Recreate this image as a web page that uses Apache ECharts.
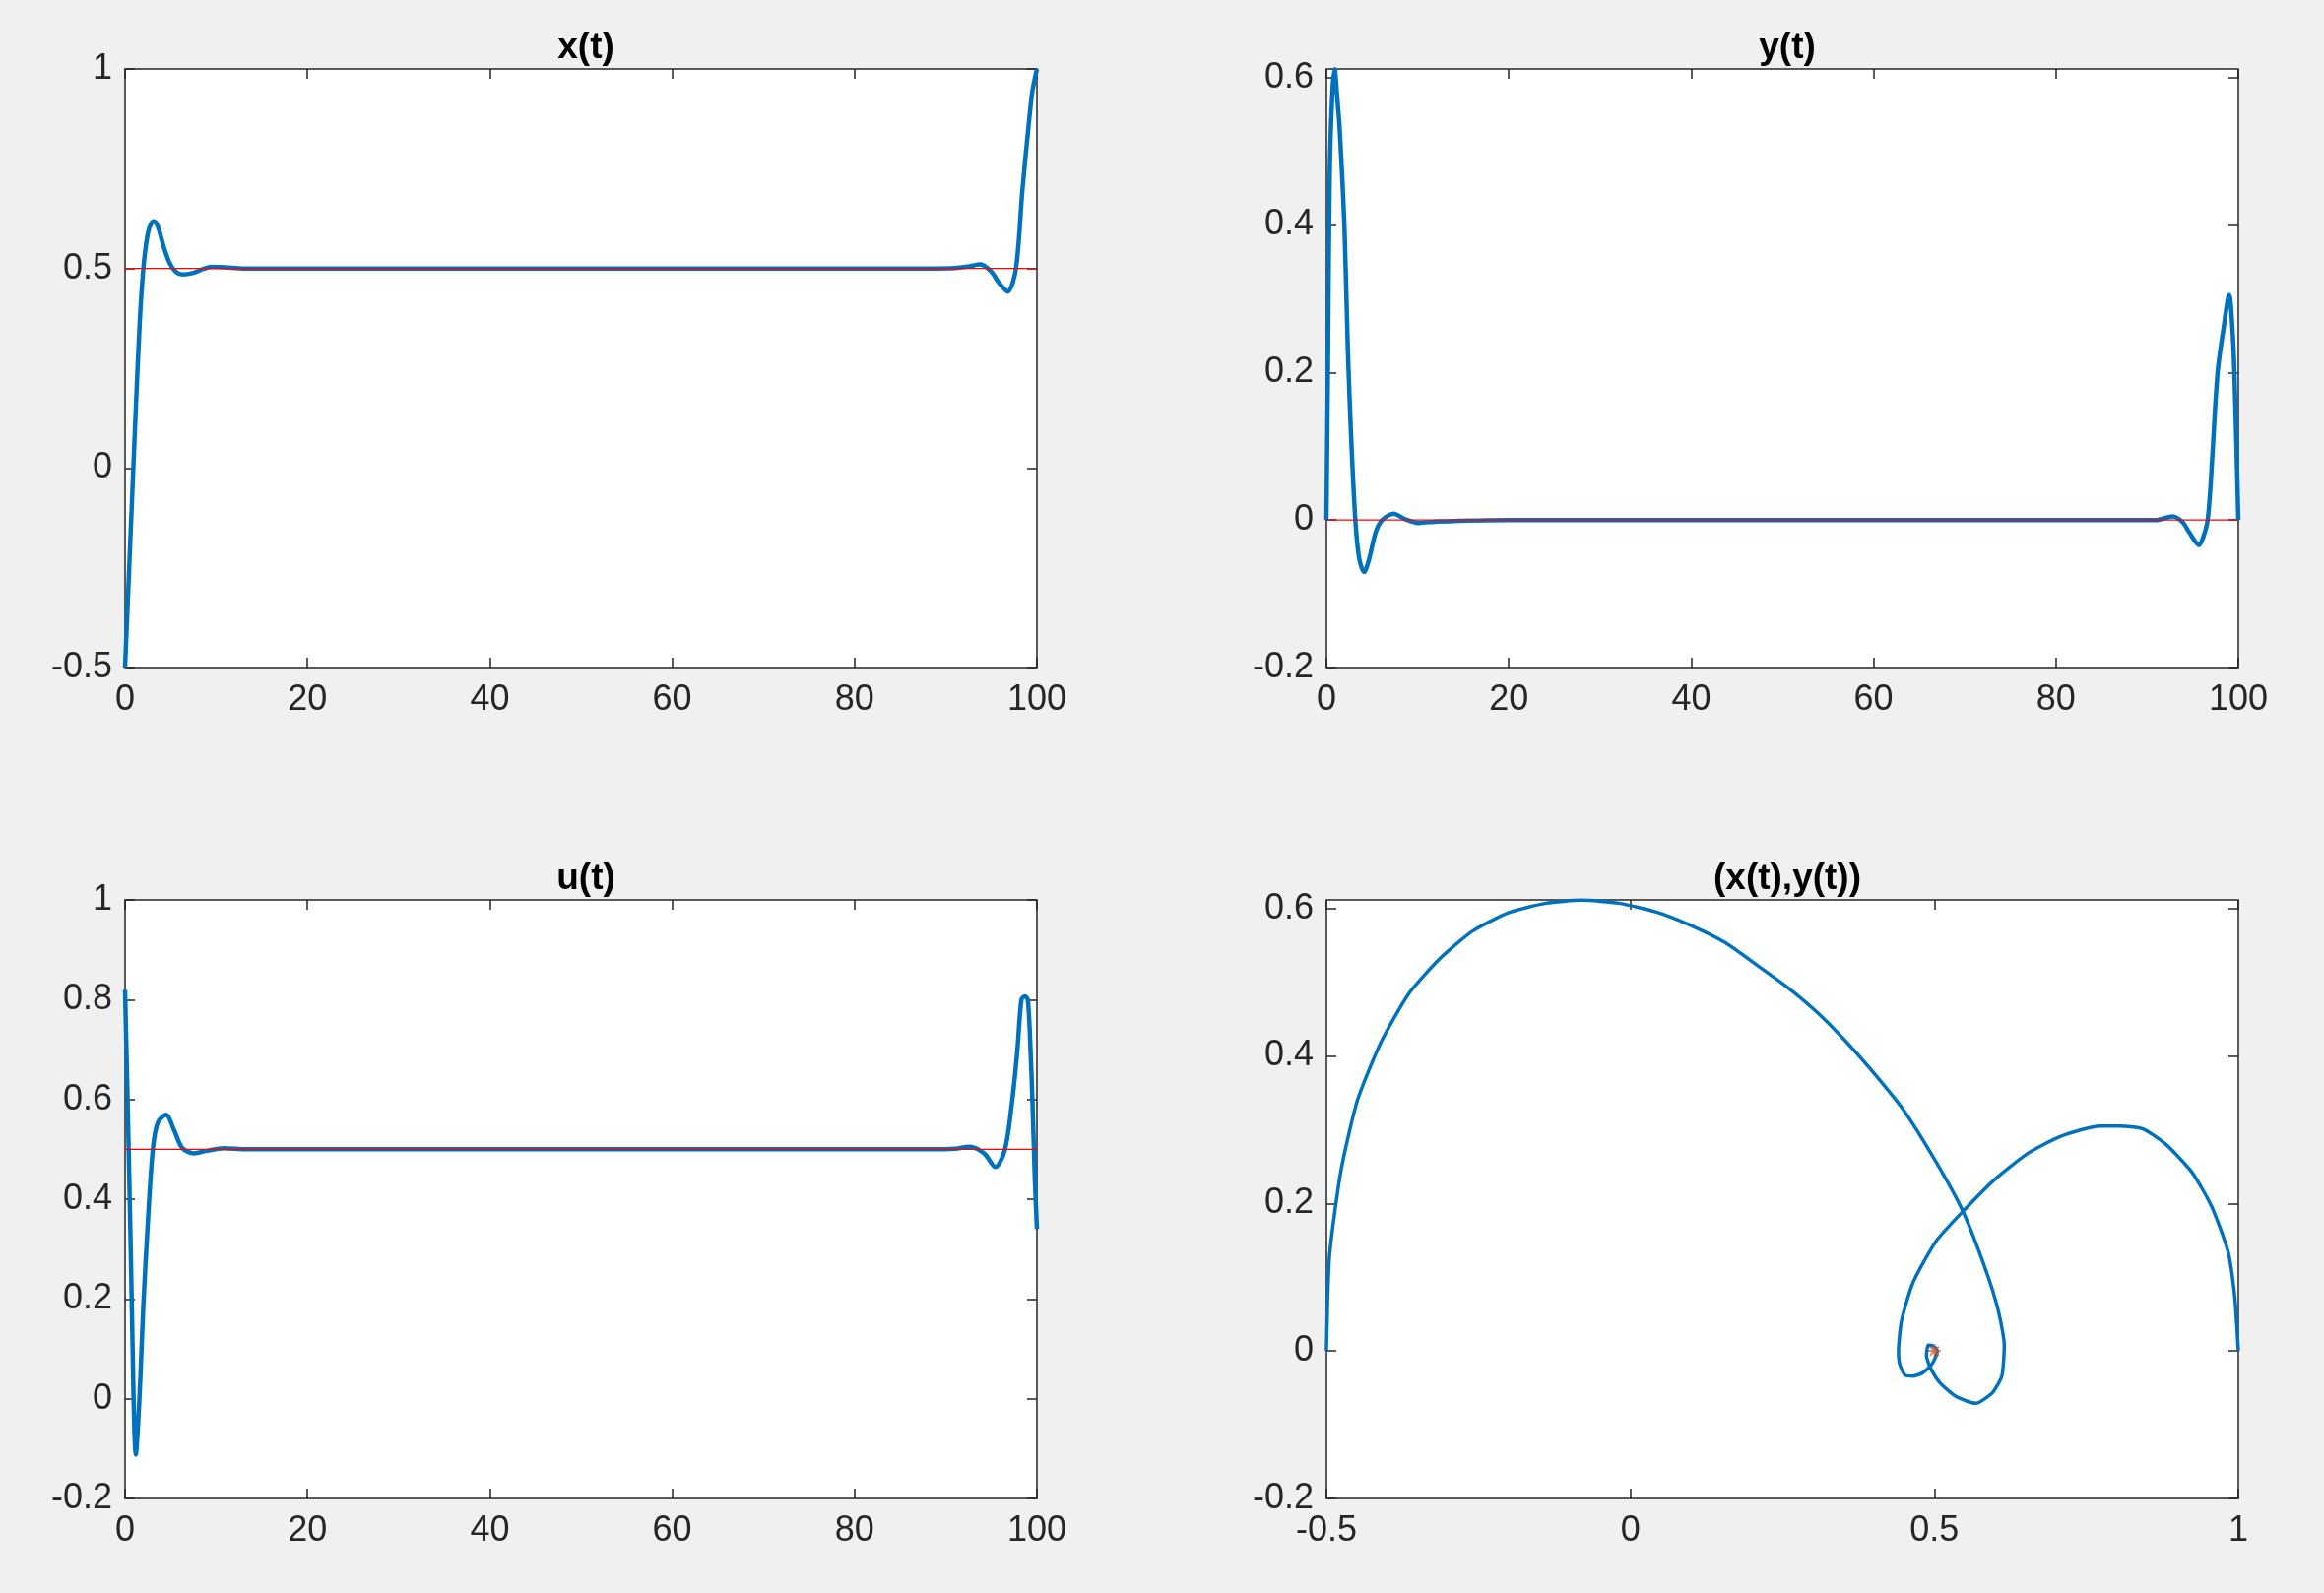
<!DOCTYPE html>
<html>
<head>
<meta charset="utf-8">
<title>x(t), y(t), u(t)</title>
<script src="https://cdn.jsdelivr.net/npm/echarts@6/dist/echarts.min.js"></script>
<style>
    html, body { margin: 0; padding: 0; background: #f0f0f0; }
    #chart { width: 2360px; height: 1618px; }
</style>
</head>
<body>
<div id="chart"></div>
<script>
// x(t)
var timeX = [0, 0.4, 0.8, 1.2, 1.62, 1.9, 2.16, 2.52, 2.85, 3.17, 3.6, 4.3, 4.9, 5.6, 6.3, 7.5, 8.5, 9.5, 11, 13,
    20, 40, 60, 80, 88, 91, 92.5, 93.8, 95, 95.8, 96.8, 97.7, 98.4, 99.1, 99.5, 100];
var xVals = [-0.5, -0.28, -0.06, 0.16, 0.37, 0.47, 0.535, 0.59, 0.612, 0.618, 0.605, 0.55, 0.513, 0.491, 0.485, 0.489, 0.498, 0.504, 0.503, 0.5,
    0.5, 0.5, 0.5, 0.5, 0.5, 0.501, 0.505, 0.51, 0.492, 0.465, 0.442, 0.5, 0.695, 0.861, 0.944, 1.0];

// y(t)
var timeY = [0, 0.18, 0.36, 0.65, 0.9, 1.2, 1.44, 1.98, 2.34, 2.7, 3.17, 3.6, 4.14, 4.68, 5.4, 6.12, 7.38, 8.64, 10.1, 12.2,
    20, 40, 60, 80, 89, 91, 92.8, 93.9, 94.6, 95.7, 96.1, 96.6, 96.9, 97.13, 97.73, 98.38, 99.0, 99.35, 99.57, 100];
var yVals = [0, 0.23, 0.47, 0.58, 0.611, 0.57, 0.533, 0.395, 0.234, 0.115, 0, -0.053, -0.0705, -0.053, -0.0167, 0, 0.0087, 0.001, -0.004, -0.002,
    0, 0, 0, 0, 0, 0, 0.005, -0.003, -0.0165, -0.034, -0.025, -0.003, 0.037, 0.082, 0.2, 0.26, 0.305, 0.26, 0.2, 0];

// u(t)
var timeU = [0, 0.3, 0.6, 0.85, 1.0, 1.18, 1.4, 1.7, 2.0, 2.52, 3.06, 3.6, 4.5, 5.4, 6.3, 7.56, 9.0, 10.8, 13.3,
    20, 40, 60, 80, 88, 91, 92.6, 94.2, 95.45, 96.5, 97.3, 97.85, 98.3, 98.67, 99.0, 99.3, 99.5, 99.67, 99.78, 100];
var uVals = [0.82, 0.58, 0.32, 0.08, -0.05, -0.112, -0.06, 0.05, 0.185, 0.36, 0.502, 0.554, 0.569, 0.537, 0.502, 0.492, 0.497, 0.502, 0.5,
    0.5, 0.5, 0.5, 0.5, 0.5, 0.501, 0.505, 0.492, 0.4645, 0.5, 0.6, 0.698, 0.8, 0.8065, 0.8, 0.698, 0.6, 0.5, 0.4345, 0.34];

// (x(t), y(t)) trajectory
var phaseX = [-0.5, -0.495, -0.476, -0.449, -0.410, -0.364, -0.312, -0.260, -0.201, -0.139, -0.080, -0.019, 0.043, 0.099, 0.155,
    0.210, 0.260, 0.306, 0.353, 0.395, 0.449, 0.503, 0.546, 0.584, 0.605, 0.615, 0.611, 0.595, 0.568, 0.536, 0.509, 0.493,
    0.487, 0.490, 0.498, 0.505, 0.500, 0.494, 0.480, 0.465, 0.452, 0.443, 0.441, 0.446, 0.465, 0.503, 0.548, 0.600, 0.654,
    0.708, 0.773, 0.805, 0.843, 0.881, 0.924, 0.956, 0.983, 0.994, 1.0];
var phaseY = [0, 0.129, 0.245, 0.340, 0.419, 0.485, 0.533, 0.569, 0.594, 0.607, 0.611, 0.607, 0.595, 0.577, 0.554,
    0.522, 0.492, 0.460, 0.421, 0.382, 0.327, 0.256, 0.191, 0.111, 0.055, 0.008, -0.034, -0.057, -0.071, -0.062, -0.043, -0.022,
    -0.006, 0.008, 0.007, 0.0, -0.012, -0.020, -0.030, -0.034, -0.033, -0.018, 0.0, 0.041, 0.093, 0.149, 0.19, 0.233, 0.268,
    0.291, 0.305, 0.305, 0.301, 0.28, 0.242, 0.196, 0.135, 0.074, 0.0];

// 参考值 (红线) 和终点标记
var refX = 0.5, refY = 0, refU = 0.5;
var targetPoint = [0.5, 0];

// 刻度
var timeTicks = [0, 20, 40, 60, 80, 100];
var xTicks = [-0.5, 0, 0.5, 1];
var yTicks = [-0.2, 0, 0.2, 0.4, 0.6];
var uTicks = [-0.2, 0, 0.2, 0.4, 0.6, 0.8, 1];
var phaseXTicks = [-0.5, 0, 0.5, 1];

var titles = ['x(t)', 'y(t)', 'u(t)', '(x(t),y(t))'];

var axisColor = '#262626',
    lineBlue = '#0072bd',
    fontFamily = '"Liberation Sans", Arial, Helvetica, sans-serif';

// 四个子图的位置
var grids = [
    { left: 127, top: 70, width: 926, height: 608 },
    { left: 1347, top: 70, width: 926, height: 608 },
    { left: 127, top: 914, width: 926, height: 608 },
    { left: 1347, top: 914, width: 926, height: 608 }
];

var ranges = [
    { x: [0, 100], y: [-0.5, 1], xt: timeTicks, yt: xTicks },
    { x: [0, 100], y: [-0.2, 0.6115], xt: timeTicks, yt: yTicks },
    { x: [0, 100], y: [-0.2, 1], xt: timeTicks, yt: uTicks },
    { x: [-0.5, 1], y: [-0.2, 0.6115], xt: phaseXTicks, yt: yTicks }
];

function zip(a, b) {
    var out = [];
    for (var i = 0; i < a.length; i++) {
        out.push([a[i], b[i]]);
    }
    return out;
}

var tickStyle = { color: axisColor, width: 1.5 };
var labelStyle = { color: axisColor, fontSize: 36, fontFamily: fontFamily };

var xAxes = [], yAxes = [], titleList = [];
for (var i = 0; i < 4; i++) {
    var r = ranges[i];
    // 下 / 左 带标签, 上 / 右 只有刻度
    ['bottom', 'top'].forEach(function(pos) {
        xAxes.push({
            gridIndex: i, type: 'value', position: pos, min: r.x[0], max: r.x[1],
            axisLine: { show: false, onZero: false },
            splitLine: { show: false },
            axisTick: { inside: true, length: 10, lineStyle: tickStyle, customValues: r.xt },
            axisLabel: pos == 'bottom' ?
                Object.assign({ margin: 15, customValues: r.xt }, labelStyle) : { show: false }
        });
    });
    ['left', 'right'].forEach(function(pos) {
        yAxes.push({
            gridIndex: i, type: 'value', position: pos, min: r.y[0], max: r.y[1],
            axisLine: { show: false, onZero: false },
            splitLine: { show: false },
            axisTick: { inside: true, length: 10, lineStyle: tickStyle, customValues: r.yt },
            axisLabel: pos == 'left' ?
                Object.assign({ margin: 13, customValues: r.yt }, labelStyle) : { show: false }
        });
    });
    titleList.push({
        text: titles[i],
        left: grids[i].left + grids[i].width / 2,
        top: grids[i].top - 45,
        textAlign: 'center',
        textStyle: { fontSize: 37, fontWeight: 'bold', color: '#000', fontFamily: fontFamily }
    });
}

function blueLine(idx, data, width, smooth) {
    return {
        type: 'line', xAxisIndex: idx * 2, yAxisIndex: idx * 2,
        data: data, showSymbol: false, smooth: smooth,
        clip: false, z: 2,
        lineStyle: { color: lineBlue, width: width }
    };
}

function redLine(idx, v) {
    return {
        type: 'line', xAxisIndex: idx * 2, yAxisIndex: idx * 2,
        data: [[0, v], [100, v]], showSymbol: false, z: 3,
        lineStyle: { color: '#ff0000', width: 1.3 }
    };
}

var myChart = echarts.init(document.getElementById('chart'), null, { renderer: 'canvas' });

var option = {
    backgroundColor: '#f0f0f0',
    animation: false,
    title: titleList,
    grid: grids.map(function(g) {
        return {
            left: g.left, top: g.top, width: g.width, height: g.height,
            show: true, backgroundColor: '#ffffff', borderColor: axisColor, borderWidth: 1.5
        };
    }),
    xAxis: xAxes,
    yAxis: yAxes,
    series: [
        blueLine(0, zip(timeX, xVals), 4.5, 0.3),
        redLine(0, refX),
        blueLine(1, zip(timeY, yVals), 4.5, 0.3),
        redLine(1, refY),
        blueLine(2, zip(timeU, uVals), 4.5, 0.3),
        redLine(2, refU),
        blueLine(3, zip(phaseX, phaseY), 3.5, 0.2),
        {
            type: 'scatter', xAxisIndex: 6, yAxisIndex: 6, z: 4,
            data: [targetPoint],
            symbol: 'path://M0,5L10,5M5,0L5,10M1.5,1.5L8.5,8.5M1.5,8.5L8.5,1.5',
            symbolSize: 13,
            itemStyle: { color: 'none', borderColor: '#d95319', borderWidth: 1.6 }
        }
    ]
};

myChart.setOption(option);
</script>
</body>
</html>
